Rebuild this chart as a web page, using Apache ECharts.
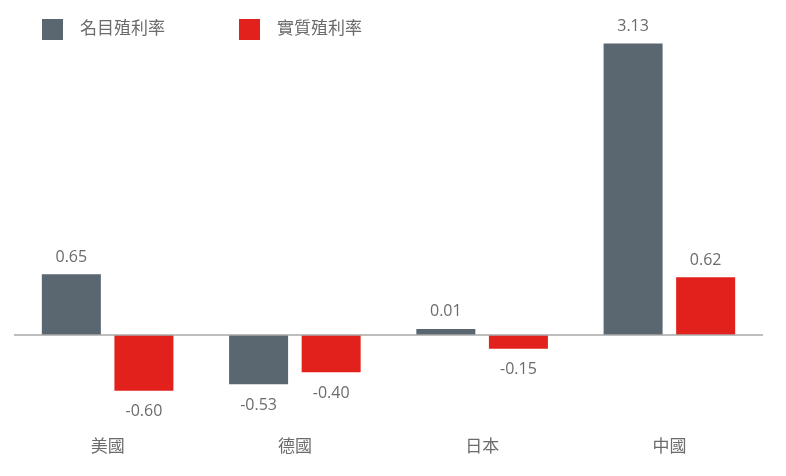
<!DOCTYPE html>
<html>
<head>
<meta charset="utf-8">
<script src="https://cdn.jsdelivr.net/npm/echarts@6/dist/echarts.min.js"></script>
<style>
  html, body { margin: 0; padding: 0; background: #fff; }
  #yield_chart { width: 786px; height: 476px; }
</style>
</head>
<body>
<div id="yield_chart"></div>
<script>
var countries = ['美國', '德國', '日本', '中國'];
var nominalYield = [0.65, -0.53, 0.01, 3.13];
var realYield = [-0.60, -0.40, -0.15, 0.62];
var seriesNames = ['名目殖利率', '實質殖利率'];

var textColor = '#6b6b6b';
var fontName = '"Open Sans", "Noto Sans CJK TC", sans-serif';

// negative values get their label under the bar
function withLabels(values) {
    return values.map(function (v) {
        return {
            value: v,
            label: v < 0 ? { position: 'bottom', distance: 13 } : { position: 'top', distance: 9 }
        };
    });
}

var yieldChart = echarts.init(document.getElementById('yield_chart'));
var yieldOption = {
    animation: false,
    textStyle: { fontFamily: fontName },
    legend: {
        left: 42,
        top: 19,
        padding: 0,
        itemWidth: 21,
        itemHeight: 21,
        itemGap: 74,
        icon: 'rect',
        textStyle: { color: textColor, fontSize: 17, padding: [0, 0, 0, 12] },
        data: seriesNames
    },
    grid: { left: 14, right: 23, top: 9, bottom: 48 },
    xAxis: {
        type: 'category',
        data: countries,
        axisLine: { show: false, onZero: false },
        axisTick: { show: false },
        axisLabel: { color: textColor, fontSize: 17, margin: 11 }
    },
    yAxis: {
        type: 'value',
        min: -1,
        max: 3.5,
        show: false,
        splitLine: { show: false }
    },
    series: [
        {
            name: seriesNames[0],
            type: 'bar',
            barWidth: 59,
            barGap: '23%',
            barMinHeight: 6,
            itemStyle: { color: '#5a6670' },
            label: {
                show: true,
                color: textColor,
                fontSize: 16,
                formatter: function (p) { return p.value.toFixed(2); }
            },
            // zero line across the plot
            markLine: {
                silent: true,
                symbol: 'none',
                label: { show: false },
                lineStyle: { color: '#a8a8a8', width: 1.5, type: 'solid' },
                data: [{ yAxis: 0 }]
            },
            data: withLabels(nominalYield)
        },
        {
            name: seriesNames[1],
            type: 'bar',
            barWidth: 59,
            itemStyle: { color: '#e2211c' },
            label: {
                show: true,
                color: textColor,
                fontSize: 16,
                formatter: function (p) { return p.value.toFixed(2); }
            },
            data: withLabels(realYield)
        }
    ]
};

yieldChart.setOption(yieldOption);
</script>
</body>
</html>
